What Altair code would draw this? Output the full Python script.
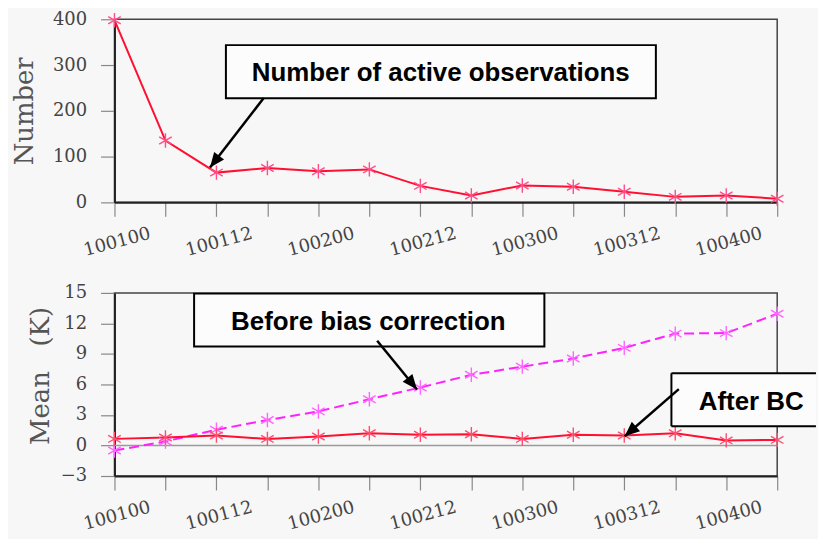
import altair as alt
import pandas as pd

# ---------------- data ----------------
dates = ["100100", "100106", "100112", "100118", "100200", "100206", "100212",
         "100218", "100300", "100306", "100312", "100318", "100400", "100406"]
number_obs = [398, 135, 65, 75, 68, 72, 36, 15, 37, 34, 23, 12, 15, 8]
before_bc = [-0.5, 0.4, 1.55, 2.5, 3.35, 4.55, 5.7, 6.95, 7.75, 8.55, 9.6, 11.0, 11.05, 12.95]
after_bc = [0.65, 0.78, 0.98, 0.65, 0.88, 1.2, 1.05, 1.1, 0.65, 1.05, 0.98, 1.2, 0.5, 0.55]

top_ticks = [0, 100, 200, 300, 400]
bottom_ticks = [-3, 0, 3, 6, 9, 12, 15]

idx = list(range(len(dates)))
top_df = pd.DataFrame({"i": idx, "date": dates, "n": number_obs})
before_df = pd.DataFrame({"i": idx, "date": dates, "mean": before_bc})
after_df = pd.DataFrame({"i": idx, "date": dates, "mean": after_bc})

# annotation geometry (data coordinates)
top_box = pd.DataFrame({"x": [2.186], "x2": [10.62], "y": [227.6], "y2": [343.5]})
top_txt = pd.DataFrame({"x": [6.40], "y": [281.5], "t": ["Number of active observations"]})
top_arrow = pd.DataFrame({"x": [2.928], "y": [228.0], "x2": [1.874], "y2": [76.0]})

bb_box = pd.DataFrame({"x": [1.562], "x2": [8.433], "y": [9.72], "y2": [14.93]})
bb_txt = pd.DataFrame({"x": [4.98], "y": [12.11], "t": ["Before bias correction"]})
bb_arrow = pd.DataFrame({"x": [5.153], "y": [10.30], "x2": [5.934], "y2": [5.51]})

ab_box = pd.DataFrame({"x": [10.925], "x2": [13.76], "y": [1.89], "y2": [7.10]})
ab_txt = pd.DataFrame({"x": [12.49], "y": [4.29], "t": ["After BC"]})
ab_arrow = pd.DataFrame({"x": [11.07], "y": [5.54], "x2": [10.008], "y2": [0.91]})

ASTERISK = "M0,-1L0,1M-0.87,-0.5L0.87,0.5M-0.87,0.5L0.87,-0.5"
HEAD = "M0,0L-0.42,1L0.42,1Z"

js_labels = "[" + ",".join("'" + d + "'" for d in dates) + "]"
label_expr = "datum.value % 2 == 0 ? " + js_labels + "[datum.value] : ''"

W, H = 666, 184

AX_STYLE = dict(domainColor="#222", domainWidth=2, tickColor="#888", tickWidth=1.2, tickSize=14,
                labelFont="DejaVu Serif", labelFontSize=18, labelColor="#444", grid=False,
                titleFont="DejaVu Serif", titleFontSize=26, titleColor="#555",
                titleFontWeight="normal", labelOverlap=False, labelFlush=False)

x_scale = alt.Scale(domain=[0, len(dates) - 1], nice=False, zero=False)
x_axis = alt.Axis(values=idx, labelExpr=label_expr, labelAngle=-15,
                  labelAlign="center", labelBaseline="top", labelPadding=17,
                  title=None, **AX_STYLE)

ytop_scale = alt.Scale(domain=[0, 400], nice=False, zero=False)
ytop_axis = alt.Axis(values=top_ticks, title="Number", labelPadding=14, titlePadding=15,
                     **AX_STYLE)

ybot_scale = alt.Scale(domain=[-3, 15], nice=False, zero=False)
ybot_axis = alt.Axis(values=bottom_ticks, title="Mean\u00a0\u00a0\u00a0(K)", labelPadding=14,
                     titlePadding=7, titleY=H / 2 - 9, **AX_STYLE)


def X(field):
    return alt.X(field + ":Q", scale=x_scale, axis=x_axis)


def Y(field, scale, axis):
    return alt.Y(field + ":Q", scale=scale, axis=axis)


def annot(box, txt, arrow, angle, yscale, yaxis, right_open=False):
    layers = []
    if right_open:
        layers.append(alt.Chart(box).mark_rect(fill="#fcfcfc").encode(
            x=X("x"), x2="x2", y=Y("y", yscale, yaxis), y2="y2"))
        layers.append(alt.Chart(box).mark_rule(color="#000", strokeWidth=2).encode(
            x=X("x"), x2="x2", y=Y("y", yscale, yaxis)))
        layers.append(alt.Chart(box).mark_rule(color="#000", strokeWidth=2).encode(
            x=X("x"), x2="x2", y=Y("y2", yscale, yaxis)))
        layers.append(alt.Chart(box).mark_rule(color="#000", strokeWidth=2).encode(
            x=X("x"), y=Y("y", yscale, yaxis), y2="y2"))
    else:
        layers.append(alt.Chart(box).mark_rect(fill="#fcfcfc", stroke="#000", strokeWidth=2).encode(
            x=X("x"), x2="x2", y=Y("y", yscale, yaxis), y2="y2"))
    layers.append(alt.Chart(txt).mark_text(font="Liberation Sans", fontWeight="bold", fontSize=26,
                                          color="#000", align="center", baseline="middle").encode(
        x=X("x"), y=Y("y", yscale, yaxis), text="t:N"))
    layers.append(alt.Chart(arrow).mark_rule(color="#000", strokeWidth=2.5).encode(
        x=X("x"), y=Y("y", yscale, yaxis), x2="x2", y2="y2"))
    layers.append(alt.Chart(arrow).mark_point(shape=HEAD, size=900, filled=True, color="#000",
                                             opacity=1, angle=angle, strokeWidth=0).encode(
        x=X("x2"), y=Y("y2", yscale, yaxis)))
    return layers


# ---------------- top panel ----------------
top_line = alt.Chart(top_df).mark_line(color="#ff1030", strokeWidth=2).encode(
    x=X("i"), y=Y("n", ytop_scale, ytop_axis))
top_pts = alt.Chart(top_df).mark_point(shape=ASTERISK, size=210, filled=False, strokeWidth=1.4,
                                      color="#ff4d88", opacity=1).encode(
    x=X("i"), y=Y("n", ytop_scale, ytop_axis))

top = alt.layer(top_line, top_pts,
                *annot(top_box, top_txt, top_arrow, 217.6, ytop_scale, ytop_axis)
                ).properties(width=W, height=H)

# ---------------- bottom panel ----------------
zero_df = pd.DataFrame({"z": [0]})
zero_rule = alt.Chart(zero_df).mark_rule(color="#9a9a9a", strokeWidth=1.5).encode(
    y=Y("z", ybot_scale, ybot_axis))

before_line = alt.Chart(before_df).mark_line(color="#ff22ff", strokeWidth=2,
                                             strokeDash=[10, 5]).encode(
    x=X("i"), y=Y("mean", ybot_scale, ybot_axis))
before_pts = alt.Chart(before_df).mark_point(shape=ASTERISK, size=210, filled=False,
                                            strokeWidth=1.4, color="#ff66ff", opacity=1).encode(
    x=X("i"), y=Y("mean", ybot_scale, ybot_axis))
after_line = alt.Chart(after_df).mark_line(color="#ff1030", strokeWidth=2).encode(
    x=X("i"), y=Y("mean", ybot_scale, ybot_axis))
after_pts = alt.Chart(after_df).mark_point(shape=ASTERISK, size=210, filled=False,
                                          strokeWidth=1.4, color="#ff4d70", opacity=1).encode(
    x=X("i"), y=Y("mean", ybot_scale, ybot_axis))

bottom = alt.layer(zero_rule, before_line, after_line, before_pts, after_pts,
                   *annot(bb_box, bb_txt, bb_arrow, 140.8, ybot_scale, ybot_axis),
                   *annot(ab_box, ab_txt, ab_arrow, 228.9, ybot_scale, ybot_axis, right_open=True)
                   ).properties(width=W, height=H)

chart = alt.vconcat(top, bottom, spacing=91, bounds="flush").properties(
    padding={"left": 2, "top": 0, "right": 0, "bottom": 6},
    background="#f7f7f7",
).configure_view(
    stroke="#444", strokeWidth=1.5
)

chart.save("out.html", embed_options={"renderer": "svg", "actions": False})
